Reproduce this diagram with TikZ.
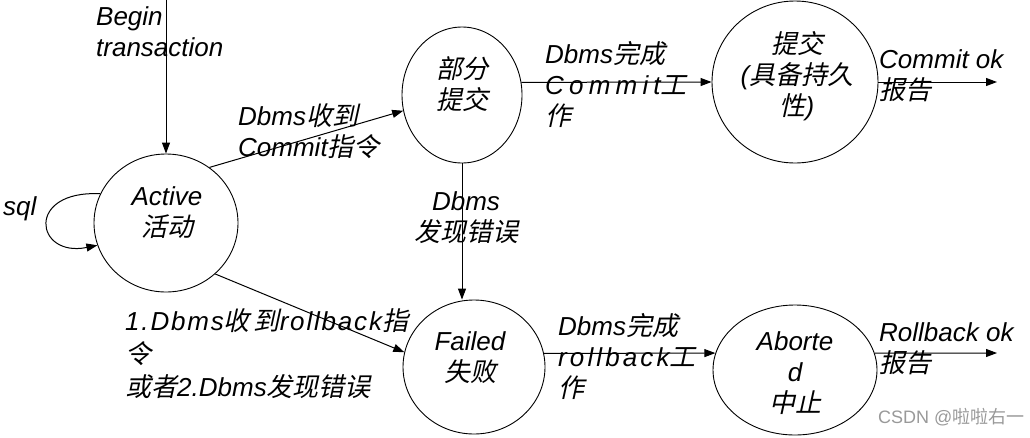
\documentclass[tikz,border=0pt]{standalone}
\usepackage{fontspec}
\setmainfont{Liberation Sans}
\newfontfamily\cjk[AutoFakeSlant=0.22]{Noto Sans CJK SC}
\newfontfamily\cjkup{Noto Sans CJK SC}
\usetikzlibrary{shapes.geometric,arrows.meta}
\newcommand\zh[1]{{\cjk\itshape #1}}
\newcommand\st{\rule{0pt}{24pt}}
\tikzset{
  state/.style={draw, ellipse, line width=0.9pt, inner sep=0pt},
  txt/.style={font=\itshape\fontsize{26}{31}\selectfont, inner sep=0pt, align=left, anchor=north west},
  ctxt/.style={font=\itshape\fontsize{26}{31}\selectfont, inner sep=0pt, align=center, anchor=north},
  arr/.style={line width=1pt, -{Triangle[length=11pt,width=8pt]}},
}
\begin{document}
\begin{tikzpicture}[x=1pt,y=-1pt]
\useasboundingbox (0,0) rectangle (1030,437);

% states
\node[state, minimum width=144pt, minimum height=138pt] (act) at (166,223) {};
\node[state, minimum width=120pt, minimum height=136pt] (part) at (462,95) {};
\node[state, minimum width=166pt, minimum height=162pt] (commit) at (795,82) {};
\node[state, minimum width=142pt, minimum height=134pt] (fail) at (474,367) {};
\node[state, minimum width=164pt, minimum height=130pt] (abort) at (795,370) {};

% state texts
\node[ctxt] (tact) at (167,181) {\st Active\\\zh{活动}};
\node[ctxt] (tpart) at (462,54) {\st\zh{部分}\\\zh{提交}};
\node[ctxt] (tcommit) at (797,29) {\st\zh{提交}\\(\zh{具备持久}\\\zh{性})};
\node[ctxt] (tfail) at (470,326) {\st Failed\\\zh{失败}};
\node[ctxt] (tabort) at (795,326) {\st Aborte\\d\\\zh{中止}};

% free ends
\coordinate (bt) at (166,0);
\coordinate (cok) at (997,82);
\coordinate (rok) at (997,353);

% connectors
\draw[arr] (bt) -- (act.north);
\draw[arr] (act.156) .. controls (25,190) and (35,258) .. (act.198);
\draw[arr] (act.52) -- (part.195);
\draw[arr] (act.314) -- (fail.168);
\draw[arr] (part.south) -- (part.south |- fail.north);
\draw[arr] (part.12) -- (commit.west);
\draw[arr] (commit.east) -- (cok);
\draw[arr] (fail.11) -- (abort.168);
\draw[arr] (abort.12) -- (rok);

% labels
\node[txt] (lbegin) at (96,1) {\st Begin\\transaction};
\node[txt] (lsql) at (3,191) {\st sql};
\node[txt] (lrecv) at (238,101) {\st Dbms\zh{收到}\\Commit\zh{指令}};
\node[txt] (ldone) at (545,39) {\st Dbms\zh{完成}\\{\addfontfeature{LetterSpace=20}Commit}\zh{工}\\\zh{作}};
\node[txt] (lcok) at (879,44) {\st Commit ok\\\zh{报告}};
\node[ctxt] (lerr) at (466,186) {\st Dbms\\\zh{发现错误}};
\node[txt, font=\itshape\fontsize{26}{33}\selectfont] (lrb) at (125,306) {\st {\addfontfeature{LetterSpace=7}1.Dbms}\zh{\addfontfeature{LetterSpace=15}收到}{\addfontfeature{LetterSpace=7}rollback}\zh{指}\\\zh{令}\\\zh{或者}2.Dbms\zh{发现错误}};
\node[txt] (lrdone) at (558,311) {\st Dbms\zh{完成}\\{\addfontfeature{LetterSpace=12}rollback}\zh{工}\\\zh{作}};
\node[txt] (lrok) at (879,317) {\st Rollback ok\\\zh{报告}};

% watermark
\node[anchor=west, inner sep=0pt, font=\fontsize{18}{20}\selectfont, text=gray!80] (wm) at (878,417) {CSDN @{\cjkup 啦啦右一}};
\end{tikzpicture}
\end{document}
